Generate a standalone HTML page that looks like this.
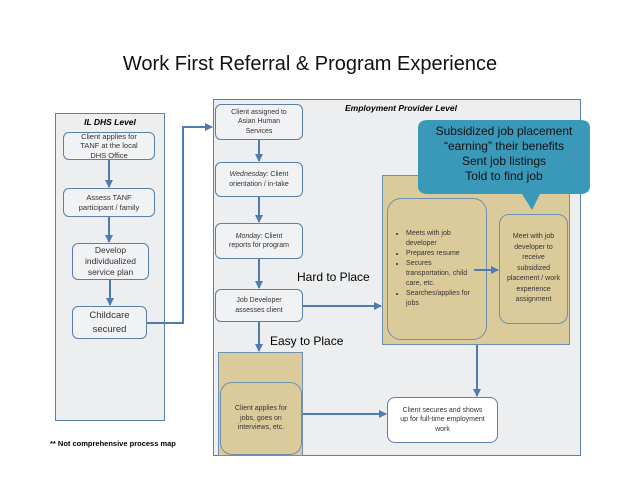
<!DOCTYPE html>
<html><head><style>
body{margin:0;background:#fff;width:638px;height:493px;position:relative;overflow:hidden;font-family:"Liberation Sans",sans-serif}
.a{position:absolute;box-sizing:border-box}
.panel{background:#eceef0;border:1px solid #5b7fa6}
.b{border:1px solid #5b7fa6;border-radius:6px;background:#f1f2f4;display:flex;align-items:center;justify-content:center;text-align:center;color:#333;font-size:7px;line-height:9.5px;padding:2px 12px}
.tan{background:#dccb9a;border:1px solid #6f8fb0}
</style></head><body>
<div class="a" style="left:0;top:53px;width:620px;text-align:center;font-size:20px;color:#111">Work First Referral &amp; Program Experience</div>

<div class="a panel" style="left:55px;top:113px;width:110px;height:308px"></div>
<div class="a" style="left:55px;top:117px;width:110px;text-align:center;font-size:8.5px;font-weight:bold;font-style:italic">IL DHS Level</div>
<div class="a b" style="left:63px;top:132px;width:92px;height:28px;font-size:7.5px">Client applies for TANF at the local DHS Office</div>
<div class="a b" style="left:63px;top:188px;width:92px;height:29px;font-size:7.5px">Assess TANF participant / family</div>
<div class="a b" style="left:72px;top:243px;width:77px;height:37px;font-size:8.5px;line-height:11px;padding:2px 4px">Develop individualized service plan</div>
<div class="a b" style="left:72px;top:306px;width:75px;height:33px;font-size:9.5px;line-height:14px">Childcare secured</div>

<div class="a panel" style="left:213px;top:99px;width:368px;height:357px"></div>
<div class="a" style="left:345px;top:103px;font-size:8.5px;font-weight:bold;font-style:italic">Employment Provider Level</div>
<div class="a b" style="left:215px;top:104px;width:88px;height:36px;padding:2px 10px">Client assigned to Asian Human Services</div>
<div class="a b" style="left:215px;top:162px;width:88px;height:35px;padding:2px 8px"><span><i>Wednesday:</i> Client orientation / in-take</span></div>
<div class="a b" style="left:215px;top:223px;width:88px;height:36px;padding:2px 10px"><span><i>Monday:</i> Client reports for program</span></div>
<div class="a b" style="left:215px;top:289px;width:88px;height:33px;padding:2px 14px">Job Developer assesses client</div>
<div class="a tan" style="left:218px;top:352px;width:85px;height:104px"></div>
<div class="a b tan" style="left:220px;top:382px;width:82px;height:73px;border-radius:12px;background:#dccb9a;padding:2px 10px">Client applies for jobs, goes on interviews, etc.</div>
<div class="a" style="left:297px;top:270px;font-size:12px">Hard to Place</div>
<div class="a" style="left:270px;top:334px;font-size:12px">Easy to Place</div>

<div class="a tan" style="left:382px;top:175px;width:188px;height:170px"></div>
<div class="a b tan" style="left:387px;top:198px;width:100px;height:142px;border-radius:14px;background:#dccb9a;justify-content:flex-start;text-align:left;padding:2px 12px 2px 8px">
<ul style="margin:0;padding-left:10px;font-size:7px;line-height:10px"><li>Meets with job developer</li><li>Prepares resume</li><li>Secures transportation, child care, etc.</li><li>Searches/applies for jobs</li></ul></div>
<div class="a b tan" style="left:499px;top:214px;width:69px;height:110px;border-radius:10px;background:#dccb9a;padding:2px 6px;line-height:10.5px">Meet with job developer to receive subsidized placement / work experience assignment</div>
<div class="a b" style="left:387px;top:397px;width:111px;height:46px;border-radius:8px;background:#fff;padding:2px 12px">Client secures and shows up for full-time employment work</div>

<svg class="a" style="left:0;top:0" width="638" height="493">
<defs><marker id="m" markerUnits="userSpaceOnUse" markerWidth="8" markerHeight="8" refX="7" refY="4" orient="auto"><path d="M0,0L8,4L0,8z" fill="#4f7bb0"/></marker></defs>
<path d="M418,128 q0,-8 10,-8 h152 q10,0 10,8 v58 q0,8 -10,8 h-40 l-8,16 l-10,-16 h-94 q-10,0 -10,-8z" fill="#3a98b9"/>
<g stroke="#4f7bb0" stroke-width="2" fill="none" marker-end="url(#m)">
<line x1="109" y1="160" x2="109" y2="187"/>
<line x1="109" y1="217" x2="109" y2="242"/>
<line x1="110" y1="280" x2="110" y2="305"/>
<polyline points="147,323 183,323 183,127 212,127"/>
<line x1="259" y1="140" x2="259" y2="161"/>
<line x1="259" y1="197" x2="259" y2="222"/>
<line x1="259" y1="259" x2="259" y2="288"/>
<line x1="259" y1="322" x2="259" y2="351"/>
<line x1="303" y1="306" x2="381" y2="306"/>
<line x1="303" y1="414" x2="386" y2="414"/>
<line x1="474" y1="270" x2="498" y2="270"/>
<line x1="477" y1="345" x2="477" y2="396"/>
</g>
</svg>
<div class="a" style="left:418px;top:124px;width:172px;text-align:center;color:#111;font-size:12px;line-height:15px">Subsidized job placement<br>“earning” their benefits<br>Sent job listings<br>Told to find job</div>
<div class="a" style="left:50px;top:439px;font-size:7.5px;font-weight:bold">** Not comprehensive process map</div>
</body></html>
